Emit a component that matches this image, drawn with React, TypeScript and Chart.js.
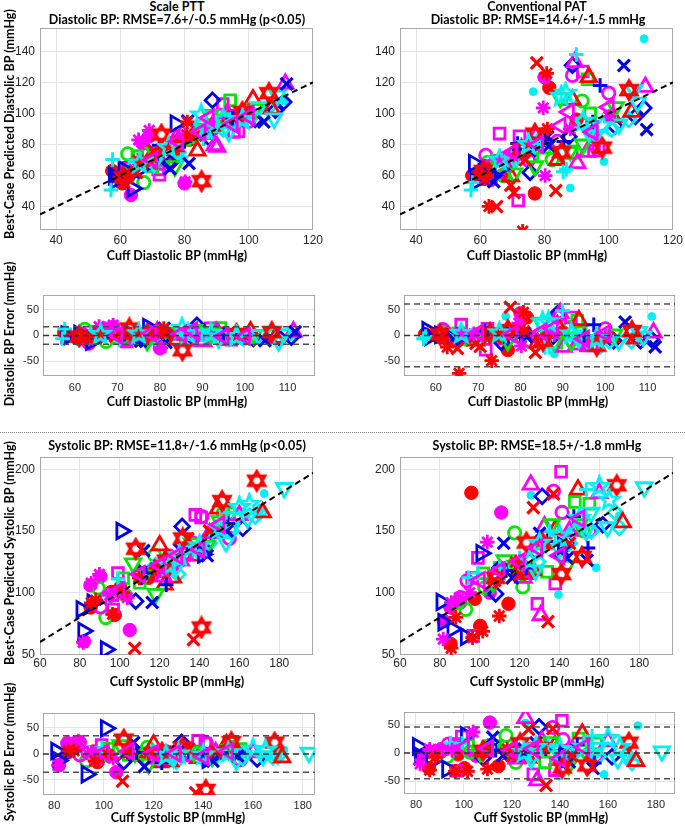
import React, { useEffect, useRef } from 'react';
import { Chart, registerables } from 'chart.js';
Chart.register(...registerables);

// ---------------- DATA ----------------
// one inner list per subject (same order as seriesNames)
const seriesNames = [
  'red dot', 'magenta dot', 'cyan dot', 'green circle', 'magenta circle', 'magenta square',
  'green square', 'blue diamond', 'cyan diamond', 'red triangle', 'magenta triangle',
  'green triangle down', 'cyan triangle down', 'blue triangle right', 'blue plus', 'cyan plus',
  'blue x', 'red x', 'magenta asterisk', 'red asterisk', 'red hexagram', 'cyan pentagram',
  'magenta triangle left',
];

// Diastolic: cuff values, Scale PTT predictions, Conventional PAT predictions
const cuffDia: number[][] = [
  [57.5, 60.5, 61.5, 77, 81.5, 90],
  [63.3, 66.9, 69, 80, 95.4, 72],
  [76.5, 88, 98.5, 111, 66, 93],
  [62.3, 67.3, 71, 91.7, 82.4, 76],
  [61.7, 100, 88.7, 75, 84, 95],
  [72.2, 96.8, 91.9, 66, 71.8, 95.4],
  [65.3, 94.2, 88.5, 93.4, 70, 80],
  [75.5, 88.7, 110.9, 87.6, 108.3, 102],
  [64, 70, 78, 92, 101, 106.2],
  [84, 101.3, 107.1, 69.5, 88.7, 93.8],
  [79.4, 111.4, 90.2, 89.4, 77.3, 93.3],
  [77, 84.9, 102.1, 70.5, 92, 88],
  [70.4, 93.8, 103.2, 107.9, 109, 96],
  [58, 63.8, 77.2, 58.6, 61, 66],
  [72.1, 97.3, 71.6, 95, 80, 86],
  [57.6, 57.1, 86.8, 89.9, 85.8, 79],
  [81.4, 104.7, 75.5, 81, 111.8, 64.2],
  [77.6, 69.5, 70.5, 83.5, 65.1, 74],
  [65.7, 69, 80.2, 79.6, 88, 100],
  [61.4, 80.9, 62.7, 65.5, 73.2, 80.7],
  [72.8, 85.3, 106.3, 61, 98, 77],
  [85.2, 86.6, 75, 92, 66, 98],
  [87.6, 70, 95, 78, 85, 100],
];
const predDiaPTT: number[][] = [
  [63, 55, 65, 72, 83, 92],
  [47.5, 80.6, 85.3, 55, 98, 70],
  [75, 90, 93, 108, 68, 95],
  [74, 55.5, 68, 95, 85, 78],
  [64, 95, 90, 73, 88, 98],
  [60.5, 88.5, 106, 68, 64, 88],
  [72.5, 108.5, 92, 97, 66, 83],
  [68, 108.4, 107.3, 84.4, 102, 96],
  [66, 72, 75, 90, 98, 104],
  [76, 109, 103, 72, 92, 96],
  [87, 119, 78.5, 79.5, 84, 100],
  [66, 90, 103, 75, 96, 99],
  [68, 88, 104, 96.8, 111.5, 97],
  [59.7, 51.7, 93.4, 57, 64, 64],
  [79.5, 99.8, 74, 97, 82, 84],
  [70.3, 50.7, 90, 92, 84, 72],
  [67.8, 94.5, 64.5, 95, 119, 62],
  [80, 68, 76, 86, 62, 78],
  [83, 89, 56, 85, 92, 102],
  [55.4, 94.5, 60, 70, 76, 86],
  [86.4, 56.4, 113, 59, 101, 79],
  [99, 90, 78, 96, 68, 96],
  [97, 70, 93, 82, 88, 98],
];
const predDiaPAT: number[][] = [
  [60, 58, 66, 48.5, 116.5, 96],
  [57.1, 60.3, 66, 123.3, 84.9, 74],
  [114, 52, 69, 148, 68, 90],
  [68.5, 60, 75, 108, 70.3, 72],
  [73, 113, 124.4, 70, 82, 88],
  [85.3, 78, 127, 87, 44, 76],
  [69.7, 100, 74.5, 122, 72, 78],
  [62, 131, 103.5, 85, 98, 91.7],
  [60, 68, 82, 95, 90, 96],
  [70, 97.7, 101, 59.5, 108.7, 123.3],
  [84, 117, 68, 133, 84.9, 75.2],
  [66, 110, 104, 61.4, 80, 76],
  [72, 88, 93, 115, 107, 86],
  [68, 60, 80, 56, 62, 64],
  [76.8, 118, 80.6, 94.5, 83, 82],
  [55.5, 50.7, 64, 137.9, 62.4, 80],
  [79, 130.8, 76, 84.9, 89.6, 56],
  [132.5, 53.9, 49, 50.3, 40, 70],
  [70, 72, 60, 103.6, 90, 98],
  [58, 90, 40.2, -8.5, 24.2, 125.7],
  [77, 75, 115, 63, 78, 87],
  [111, 113, 80, 95, 70, 92],
  [100.9, 75, 88, 80, 92, 104],
];

// Systolic: cuff values, Scale PTT predictions, Conventional PAT predictions
const cuffSys: number[][] = [
  [95.8, 97.5, 85.4, 100.2, 114.4, 123],
  [82, 85.3, 90.3, 105, 110.8, 125],
  [170, 172.5, 139.5, 158.4, 125.7, 145],
  [89.2, 93, 102.5, 117.5, 151.9, 121.6],
  [141.3, 155, 90.4, 137, 93.6, 120],
  [96.7, 140.8, 99.1, 137.9, 128.9, 96.2],
  [101.7, 155, 147.7, 133.8, 110, 125],
  [108, 131.3, 144.2, 161.7, 110, 141],
  [129.2, 168, 170, 118, 145, 156],
  [120, 126.7, 171.7, 122.5, 149.3, 137.9],
  [122, 132.5, 160, 125.6, 130.6, 145],
  [106.7, 118, 136.2, 150.2, 143.6, 112.5],
  [182.5, 153.3, 164.1, 155.9, 140, 128],
  [80.8, 81.7, 86.3, 93, 100.8, 141.7],
  [113.2, 123.3, 147.2, 134.1, 154.3, 110.8],
  [94.4, 99.2, 153.4, 120, 135, 110],
  [112, 116.3, 143.9, 153.8, 130, 125],
  [107.5, 137, 134.2, 126.9, 120, 145],
  [81.7, 85.7, 89.8, 103.8, 95, 120],
  [85.7, 96.4, 101.5, 109.8, 88, 118],
  [108, 151.3, 168.7, 141, 131.6, 123.4],
  [160, 165, 150, 140, 130, 125],
  [128.9, 100, 110, 140, 120, 150],
];
const predSysPTT: number[][] = [
  [100.5, 82, 88, 104, 112, 126],
  [60.6, 105.9, 113, 69.7, 112, 130],
  [166, 180.3, 136, 156, 122, 148],
  [103.7, 79.8, 98.4, 130.3, 164.4, 118],
  [161.7, 144, 88.4, 140, 96, 118],
  [86.4, 160.9, 116, 163, 126, 98],
  [111.7, 164.4, 150, 132, 108, 128],
  [93.1, 153.7, 140.2, 152.1, 115.7, 138],
  [115, 162, 165, 122, 140, 150],
  [138.3, 112.2, 165, 106.5, 168, 130],
  [113, 130.3, 162.8, 122, 126, 148],
  [123.7, 99, 140, 158, 138, 115],
  [184.8, 141, 160, 152, 132, 120],
  [86.5, 69, 91.8, 54, 150, 131],
  [116, 106.4, 150, 138, 156, 112],
  [97.4, 111, 165, 124, 138, 114],
  [134, 92, 130, 150, 135, 128],
  [55, 62, 143.6, 130, 122, 150],
  [59.7, 107.7, 114.8, 96, 98, 118],
  [91.7, 82.4, 100, 112, 94, 120],
  [135.6, 174.2, 190.7, 71.8, 144, 126],
  [169, 171.5, 152, 138, 130, 122],
  [130, 102, 115, 135, 122, 155],
];
const predSysPAT: number[][] = [
  [180.9, 95, 58.5, 73.1, 91, 118],
  [77, 88, 92, 100, 164.9, 118],
  [162.2, 221, 98.4, 120.2, 179, 150],
  [92, 86.4, 104, 148.4, 150, 104.6],
  [165, 150, 96, 182.2, 109.6, 124],
  [65, 198, 128.2, 107.4, 91, 112],
  [115.7, 172, 173.4, 117, 120, 118],
  [99, 178, 140, 155, 120, 130],
  [125, 165, 152.8, 120, 140, 150],
  [118, 118, 157, 115, 183.5, 151],
  [112, 153.5, 180.6, 187.5, 81.7, 150],
  [108, 122, 155.6, 155.6, 121.8, 126.3],
  [185.4, 150, 153, 164.9, 135, 118],
  [92.5, 76, 70.5, 64.3, 132, 138],
  [118, 120, 161.6, 141.5, 136.2, 118.4],
  [112, 116, 183.5, 128, 150, 120],
  [140, 112, 128, 126.3, 148, 132],
  [110, 180, 76.5, 168.9, 115, 140],
  [62.4, 92, 96, 141, 100, 125],
  [55, 63.6, 68.7, 81.1, 80, 125],
  [112, 129, 187, 115.1, 140, 140.6],
  [186, 175, 160, 146, 140, 126],
  [136.2, 110, 118, 130, 125, 160],
];

// Bland-Altman limit lines (mmHg): Dia PTT, Dia PAT, Sys PTT, Sys PAT
const baLimits = [17, 61, 35, 46];

// tick labels
const diaTicks = [40, 60, 80, 100, 120];
const diaYTicks = [40, 60, 80, 100, 120, 140];
const diaBATicks = [60, 70, 80, 90, 100, 110];
const sysTicks = [60, 80, 100, 120, 140, 160, 180];
const sysYTicks = [50, 100, 150, 200];
const sysBATicks = [80, 100, 120, 140, 160, 180];
const errTicks = [-50, 0, 50];

// ---------------- STYLES ----------------
const COL: Record<string, string> = {
  r: '#ff0000', g: '#00e600', b: '#0000e6', m: '#ff00ff', c: '#00f0f0',
};
const MS = 1.12; // marker size factor
type Sty = { col: string; shape: string; fill?: boolean; r: number; rot?: number; lw?: number };
const styles: Sty[] = [
  { col: 'r', shape: 'circle', fill: true, r: 6 },
  { col: 'm', shape: 'circle', fill: true, r: 6 },
  { col: 'c', shape: 'circle', fill: true, r: 3.5 },
  { col: 'g', shape: 'circle', r: 5.5 },
  { col: 'm', shape: 'circle', r: 5.5 },
  { col: 'm', shape: 'rect', r: 6.8 },
  { col: 'g', shape: 'rect', r: 6.8 },
  { col: 'b', shape: 'rectRot', r: 6.5 },
  { col: 'c', shape: 'rectRot', r: 6.5 },
  { col: 'r', shape: 'triangle', r: 8 },
  { col: 'm', shape: 'triangle', r: 8 },
  { col: 'g', shape: 'triangle', r: 8, rot: 180 },
  { col: 'c', shape: 'triangle', r: 8, rot: 180 },
  { col: 'b', shape: 'triangle', r: 8, rot: 90 },
  { col: 'b', shape: 'cross', r: 6.5, lw: 3 },
  { col: 'c', shape: 'cross', r: 6.5, lw: 3 },
  { col: 'b', shape: 'crossRot', r: 7.5, lw: 3.2 },
  { col: 'r', shape: 'crossRot', r: 7.5, lw: 3.2 },
  { col: 'm', shape: 'star', r: 6.5, lw: 2.8 },
  { col: 'r', shape: 'star', r: 6.5, lw: 2.8 },
  { col: 'r', shape: 'hexagram', r: 8.5 },
  { col: 'c', shape: 'pentagram', r: 9 },
  { col: 'm', shape: 'triangle', r: 8, rot: -90 },
];

const imgCache: Record<string, HTMLCanvasElement> = {};
function starImage(kind: string, color: string, r: number, lw: number): HTMLCanvasElement {
  const key = kind + color + r + lw;
  if (imgCache[key]) return imgCache[key];
  const s = Math.ceil(2 * r + lw + 2);
  const c = document.createElement('canvas');
  c.width = s;
  c.height = s;
  const ctx = c.getContext('2d')!;
  ctx.strokeStyle = color;
  ctx.lineWidth = lw;
  ctx.lineJoin = 'miter';
  const cx = s / 2, cy = s / 2;
  if (kind === 'hexagram') {
    for (const off of [0, Math.PI]) {
      ctx.beginPath();
      for (let k = 0; k < 3; k++) {
        const a = off - Math.PI / 2 + (k * 2 * Math.PI) / 3;
        const px = cx + r * Math.cos(a), py = cy + r * Math.sin(a);
        if (k === 0) ctx.moveTo(px, py); else ctx.lineTo(px, py);
      }
      ctx.closePath();
      ctx.stroke();
    }
  } else {
    ctx.beginPath();
    for (let k = 0; k < 10; k++) {
      const rr = k % 2 === 0 ? r : r * 0.42;
      const a = -Math.PI / 2 + (k * Math.PI) / 5;
      const px = cx + rr * Math.cos(a), py = cy + rr * Math.sin(a);
      if (k === 0) ctx.moveTo(px, py); else ctx.lineTo(px, py);
    }
    ctx.closePath();
    ctx.stroke();
  }
  imgCache[key] = c;
  return c;
}

// ---------------- PANELS ----------------
type PanelCfg = {
  left: number; top: number; width: number; height: number;
  yW: number; xH: number; pt: number; pr: number;
  xMin: number; xMax: number; yMin: number; yMax: number;
  xTicks: number[]; yTicks: number[];
  font: number; xPad: number; yPad: number;
  ba: boolean; cuff: number[][]; pred: number[][]; limit?: number;
};

const panels: PanelCfg[] = [
  { left: 0, top: 15, width: 326, height: 237, yW: 40, xH: 22, pt: 12, pr: 12,
    xMin: 35, xMax: 120, yMin: 25, yMax: 155, xTicks: diaTicks, yTicks: diaYTicks,
    font: 12, xPad: 3, yPad: 5, ba: false, cuff: cuffDia, pred: predDiaPTT },
  { left: 360, top: 15, width: 326, height: 237, yW: 40, xH: 22, pt: 12, pr: 12,
    xMin: 35, xMax: 120, yMin: 25, yMax: 155, xTicks: diaTicks, yTicks: diaYTicks,
    font: 12, xPad: 3, yPad: 5, ba: false, cuff: cuffDia, pred: predDiaPAT },
  { left: 0, top: 282, width: 328, height: 116, yW: 43, xH: 22, pt: 10, pr: 12,
    xMin: 52.5, xMax: 116.5, yMin: -79, yMax: 79, xTicks: diaBATicks, yTicks: errTicks,
    font: 11, xPad: 5, yPad: 4, ba: true, cuff: cuffDia, pred: predDiaPTT, limit: baLimits[0] },
  { left: 361, top: 282, width: 327, height: 116, yW: 43, xH: 22, pt: 10, pr: 12,
    xMin: 52.5, xMax: 116.5, yMin: -79, yMax: 79, xTicks: diaBATicks, yTicks: errTicks,
    font: 11, xPad: 5, yPad: 4, ba: true, cuff: cuffDia, pred: predDiaPAT, limit: baLimits[1] },
  { left: 0, top: 444, width: 326, height: 233, yW: 40, xH: 22, pt: 10, pr: 12,
    xMin: 60, xMax: 197, yMin: 49.5, yMax: 210, xTicks: sysTicks, yTicks: sysYTicks,
    font: 12, xPad: 1, yPad: 5, ba: false, cuff: cuffSys, pred: predSysPTT },
  { left: 360, top: 444, width: 326, height: 233, yW: 40, xH: 22, pt: 10, pr: 12,
    xMin: 60, xMax: 197, yMin: 49.5, yMax: 210, xTicks: sysTicks, yTicks: sysYTicks,
    font: 12, xPad: 1, yPad: 5, ba: false, cuff: cuffSys, pred: predSysPAT },
  { left: 0, top: 700, width: 328, height: 117, yW: 43, xH: 22, pt: 10, pr: 12,
    xMin: 75.5, xMax: 185, yMin: -79, yMax: 79, xTicks: sysBATicks, yTicks: errTicks,
    font: 11, xPad: 4, yPad: 4, ba: true, cuff: cuffSys, pred: predSysPTT, limit: baLimits[2] },
  { left: 361, top: 699, width: 327, height: 117, yW: 43, xH: 22, pt: 10, pr: 12,
    xMin: 75, xMax: 188, yMin: -73, yMax: 73, xTicks: sysBATicks, yTicks: errTicks,
    font: 11, xPad: 4, yPad: 4, ba: true, cuff: cuffSys, pred: predSysPAT, limit: baLimits[3] },
];

const texts: { x: number; y: number; t: string; rot?: boolean }[] = [
  { x: 177, y: 7, t: 'Scale PTT' },
  { x: 177, y: 20, t: 'Diastolic BP: RMSE=7.6+/-0.5 mmHg (p<0.05)' },
  { x: 537, y: 7, t: 'Conventional PAT' },
  { x: 538, y: 20, t: 'Diastolic BP: RMSE=14.6+/-1.5 mmHg' },
  { x: 177, y: 256, t: 'Cuff Diastolic BP (mmHg)' },
  { x: 537, y: 256, t: 'Cuff Diastolic BP (mmHg)' },
  { x: 10, y: 124, t: 'Best-Case Predicted Diastolic BP (mmHg)', rot: true },
  { x: 177, y: 402, t: 'Cuff Diastolic BP (mmHg)' },
  { x: 538, y: 402, t: 'Cuff Diastolic BP (mmHg)' },
  { x: 10, y: 334, t: 'Diastolic BP Error (mmHg)', rot: true },
  { x: 177, y: 446, t: 'Systolic BP: RMSE=11.8+/-1.6 mmHg (p<0.05)' },
  { x: 537, y: 446, t: 'Systolic BP: RMSE=18.5+/-1.8 mmHg' },
  { x: 177, y: 682, t: 'Cuff Systolic BP (mmHg)' },
  { x: 537, y: 682, t: 'Cuff Systolic BP (mmHg)' },
  { x: 10, y: 553, t: 'Best-Case Predicted Systolic BP (mmHg)', rot: true },
  { x: 178, y: 818, t: 'Cuff Systolic BP (mmHg)' },
  { x: 541, y: 818, t: 'Cuff Systolic BP (mmHg)' },
  { x: 10, y: 752, t: 'Systolic BP Error (mmHg)', rot: true },
];

const boxPlugin = {
  id: 'plotBox',
  beforeDatasetsDraw(chart: any) {
    const { ctx, chartArea } = chart;
    const { left, top, right, bottom } = chartArea;
    ctx.save();
    ctx.strokeStyle = '#a8a8a8';
    ctx.lineWidth = 1;
    ctx.strokeRect(Math.round(left) + 0.5, Math.round(top) + 0.5, Math.round(right - left) - 1, Math.round(bottom - top) - 1);
    ctx.restore();
  },
};

function buildConfig(p: PanelCfg): any {
  const datasets: any[] = [];
  if (p.ba) {
    const lim = p.limit || 0;
    const mk = (y: number, color: string) => ({
      data: [{ x: p.xMin, y }, { x: p.xMax, y }], showLine: true, borderColor: color,
      borderWidth: 1.5, borderDash: [6, 4], pointRadius: 0, fill: false,
    });
    datasets.push(mk(0, '#333333'), mk(lim, '#4d4d4d'), mk(-lim, '#4d4d4d'));
  } else {
    datasets.push({
      data: [{ x: p.xMin, y: p.xMin }, { x: p.xMax, y: p.xMax }], showLine: true,
      borderColor: '#000000', borderWidth: 2, borderDash: [6, 4], pointRadius: 0, fill: false,
    });
  }
  for (let i = styles.length - 1; i >= 0; i--) {
    const st = styles[i];
    const color = COL[st.col];
    const cuff = p.cuff[i];
    const pred = p.pred[i];
    const data = cuff.map((c, k) => ({ x: c, y: p.ba ? pred[k] - c : pred[k] }));
    const r = st.r * MS;
    let pointStyle: any = st.shape;
    const lw = st.lw || 2.8;
    if (st.shape === 'hexagram' || st.shape === 'pentagram') {
      pointStyle = starImage(st.shape, color, r, 2.8);
    }
    datasets.push({
      label: seriesNames[i],
      data,
      showLine: false,
      pointStyle,
      pointRadius: r,
      pointHoverRadius: r,
      pointRotation: st.rot || 0,
      pointBorderColor: color,
      pointBackgroundColor: st.fill ? color : 'rgba(0,0,0,0)',
      pointBorderWidth: st.fill ? 1 : lw,
      borderColor: color,
      backgroundColor: color,
    });
  }
  const tickFont = { family: "'Liberation Sans', Arial, sans-serif", size: p.font };
  return {
    type: 'line',
    data: { datasets },
    plugins: [boxPlugin],
    options: {
      animation: false,
      responsive: false,
      events: [],
      layout: { padding: { left: 0, right: p.pr, top: p.pt, bottom: 0 } },
      plugins: { legend: { display: false }, tooltip: { enabled: false }, title: { display: false } },
      scales: {
        x: {
          type: 'linear', min: p.xMin, max: p.xMax,
          afterBuildTicks: (s: any) => { s.ticks = p.xTicks.map((v) => ({ value: v })); },
          afterFit: (s: any) => { s.height = p.xH; },
          grid: { color: '#e3e3e3', drawTicks: false, lineWidth: 1 },
          border: { display: false },
          ticks: { font: tickFont, color: '#262626', padding: p.xPad, maxRotation: 0, minRotation: 0, autoSkip: false, callback: (v: any) => String(v) },
        },
        y: {
          type: 'linear', min: p.yMin, max: p.yMax,
          afterBuildTicks: (s: any) => { s.ticks = p.yTicks.map((v) => ({ value: v })); },
          afterFit: (s: any) => { s.width = p.yW; },
          grid: { color: '#e3e3e3', drawTicks: false, lineWidth: 1 },
          border: { display: false },
          ticks: { font: tickFont, color: '#262626', padding: p.yPad, autoSkip: false, callback: (v: any) => String(v) },
        },
      },
    },
  };
}

function PanelChart({ cfg }: { cfg: PanelCfg }) {
  const ref = useRef<HTMLCanvasElement>(null);
  useEffect(() => {
    if (!ref.current) return;
    const chart = new Chart(ref.current, buildConfig(cfg));
    return () => chart.destroy();
  }, [cfg]);
  return (
    <div style={{ position: 'absolute', left: cfg.left, top: cfg.top, width: cfg.width, height: cfg.height }}>
      <canvas ref={ref} width={cfg.width} height={cfg.height} style={{ display: 'block', width: cfg.width, height: cfg.height }} />
    </div>
  );
}

export default function App() {
  return (
    <div style={{ position: 'absolute', left: 0, top: 0, width: 685, height: 826, overflow: 'hidden', background: '#ffffff' }}>
      {panels.map((p, i) => <PanelChart key={i} cfg={p} />)}
      <div style={{ position: 'absolute', left: 0, top: 432, width: 685, height: 0, borderTop: '1px dotted #7a7a7a' }} />
      {texts.map((t, i) => (
        <div
          key={i}
          style={{
            position: 'absolute', left: t.x, top: t.y,
            transform: `translate(-50%, -50%)${t.rot ? ' rotate(-90deg)' : ''}`,
            whiteSpace: 'nowrap', font: "bold 12.5px Lato, 'Open Sans', sans-serif", lineHeight: '14px', color: '#000',
          }}
        >
          {t.t}
        </div>
      ))}
    </div>
  );
}
